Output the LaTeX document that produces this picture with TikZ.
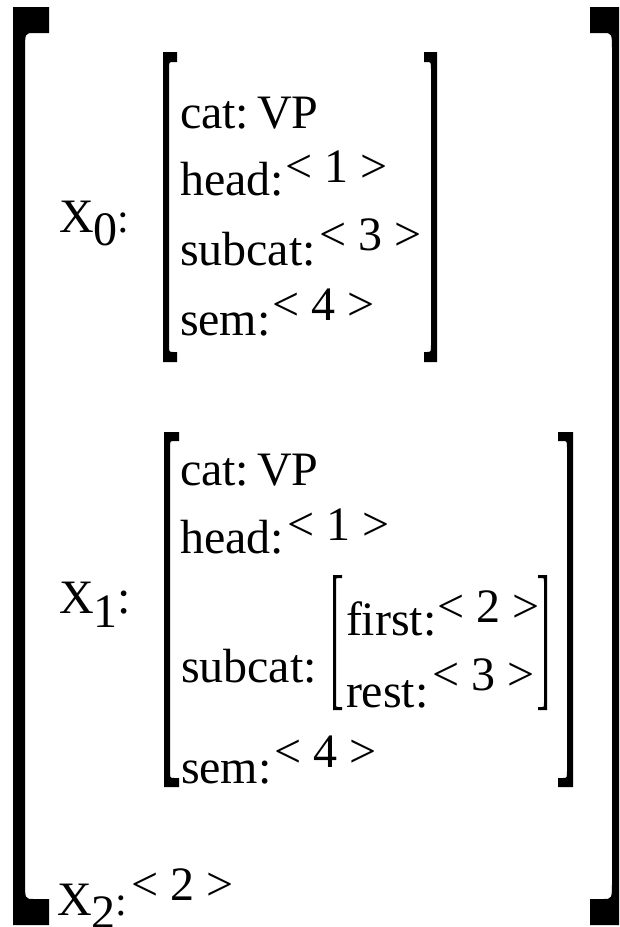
\documentclass[tikz,border=0pt]{standalone}
\usepackage{fontspec}
\setmainfont{Liberation Serif}
\tikzset{
  txt/.style={anchor=base west, inner sep=0pt, outer sep=0pt, font=\fontsize{48}{48}\selectfont},
  brk/.style={fill=black, draw=none}
}
% left bracket: x0, top, bottom, stem width, foot length, foot height, curve
\newcommand\LBrk[7]{%
  \path[brk] (#1,#2) -- ++(#5,0) -- ++(0,#6) -- (#1+#4+#7,#2+#6)
    .. controls (#1+#4,#2+#6) .. (#1+#4,#2+#6+2*#7)
    -- (#1+#4,#3-#6-2*#7)
    .. controls (#1+#4,#3-#6) .. (#1+#4+#7,#3-#6)
    -- (#1+#5,#3-#6) -- (#1+#5,#3) -- (#1,#3) -- cycle;}
% right bracket: x1 (right edge), top, bottom, stem width, foot length, foot height, curve
\newcommand\RBrk[7]{%
  \path[brk] (#1,#2) -- (#1-#5,#2) -- (#1-#5,#2+#6) -- (#1-#4-#7,#2+#6)
    .. controls (#1-#4,#2+#6) .. (#1-#4,#2+#6+2*#7)
    -- (#1-#4,#3-#6-2*#7)
    .. controls (#1-#4,#3-#6) .. (#1-#4-#7,#3-#6)
    -- (#1-#5,#3-#6) -- (#1-#5,#3) -- (#1,#3) -- cycle;}
\newcommand\Xlab[1]{X\raisebox{-13pt}{#1}{\fontsize{42}{42}\selectfont :}}
\newcommand\catvp{cat:\hspace{0pt plus 0pt}\kern-4pt\ VP}
\begin{document}
\begin{tikzpicture}[x=1pt,y=-1pt]
\useasboundingbox (0,0) rectangle (619,927);
\clip (0,0) rectangle (619,927);
% outer brackets
\LBrk{13}{7}{925}{12}{36}{26}{9}
\RBrk{624}{7}{925}{12}{34}{26}{9}
% X0 brackets
\LBrk{163}{52}{362}{6}{14}{10}{4}
\RBrk{437}{52}{362}{6}{13}{10}{4}
% X1 brackets
\LBrk{164}{432}{787}{6}{15}{9}{4}
\RBrk{573}{432}{787}{6}{15}{9}{4}
% subcat brackets
\LBrk{333}{575}{710}{3}{9}{3}{2}
\RBrk{547}{575}{710}{3}{9}{3}{2}

% X0
\node[txt] (x0) at (59,232) {\Xlab{0}};
\node[txt] (x0cat) at (180,128) {\catvp};
\node[txt] (x0head) at (180,195) {head:};
\node[txt] (x0headv) at (285,182) {< 1 >};
\node[txt] (x0sub) at (180,265) {subcat:};
\node[txt] (x0subv) at (319,250) {< 3 >};
\node[txt] (x0sem) at (180,335) {sem:};
\node[txt] (x0semv) at (272,320) {< 4 >};

% X1
\node[txt] (x1) at (59,613) {X\raisebox{-14pt}{1}:};
\node[txt] (x1cat) at (180,485) {\catvp};
\node[txt] (x1head) at (180,553) {head:};
\node[txt] (x1headv) at (287,540) {< 1 >};
\node[txt] (x1sub) at (181,682) {subcat:};
\node[txt] (x1first) at (346,635) {first:};
\node[txt] (x1firstv) at (437,622) {< 2 >};
\node[txt] (x1rest) at (346,707) {rest:};
\node[txt] (x1restv) at (432,690) {< 3 >};
\node[txt] (x1sem) at (181,783) {sem:};
\node[txt] (x1semv) at (274,767) {< 4 >};

% X2
\node[txt] (x2) at (57,915) {\Xlab{2}};
\node[txt] (x2v) at (131,900) {< 2 >};
\end{tikzpicture}
\end{document}
